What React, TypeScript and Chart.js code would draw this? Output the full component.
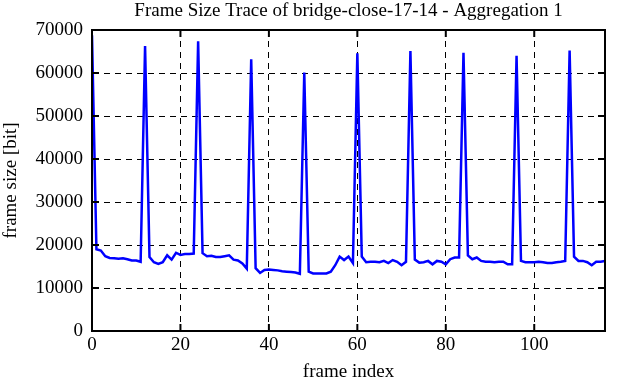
import React, { useEffect, useRef } from "react";
import { Chart, registerables } from "chart.js";

Chart.register(...registerables);

const TITLE = "Frame Size Trace of bridge-close-17-14 - Aggregation 1";
const X_LABEL = "frame index";
const Y_LABEL = "frame size [bit]";

const frameSizes: number[] = [
  68800, 19000, 18700, 17400, 17000, 16900, 16800, 16900, 16700, 16400,
  16400, 16100, 66300, 17200, 16000, 15600, 16000, 17600, 16600, 18200,
  17700, 17900, 17900, 18000, 67400, 18100, 17400, 17500, 17200, 17200,
  17400, 17600, 16600, 16400, 15700, 14500, 63200, 14600, 13500, 14200,
  14300, 14200, 14100, 13900, 13800, 13700, 13600, 13300, 60100, 13800,
  13400, 13400, 13400, 13400, 13800, 15300, 17300, 16500, 17300, 15800,
  64600, 17300, 16000, 16100, 16100, 16000, 16300, 15800, 16500, 16100,
  15300, 16100, 65100, 16600, 15900, 16000, 16300, 15500, 16300, 16100,
  15500, 16700, 17100, 17100, 64700, 17600, 16700, 17100, 16300, 16100,
  16100, 16000, 16100, 16100, 15500, 15500, 64000, 16300, 16000, 16000,
  16000, 16100, 16000, 15800, 15800, 16000, 16100, 16300, 65200, 17300,
  16300, 16300, 16000, 15300, 16100, 16100, 16300,
];
const frameIndex: number[] = frameSizes.map((_, i) => i);

const X_MAX = 116;
const Y_MAX = 70000;
const X_STEP = 20;
const Y_STEP = 10000;

const FONT = "'Liberation Serif', 'Times New Roman', serif";

const frameBox = {
  id: "frameBox",
  afterDatasetsDraw(chart: any) {
    const { ctx, chartArea, scales } = chart;
    const { left, right, top, bottom } = chartArea;
    ctx.save();
    ctx.strokeStyle = "#000";
    ctx.lineWidth = 2;
    ctx.setLineDash([]);
    const tl = 7;
    ctx.beginPath();
    scales.x.ticks.forEach((t: any) => {
      const px = scales.x.getPixelForValue(t.value);
      ctx.moveTo(px, bottom);
      ctx.lineTo(px, bottom - tl);
      ctx.moveTo(px, top);
      ctx.lineTo(px, top + tl);
    });
    scales.y.ticks.forEach((t: any) => {
      const py = scales.y.getPixelForValue(t.value);
      ctx.moveTo(left, py);
      ctx.lineTo(left + tl, py);
      ctx.moveTo(right, py);
      ctx.lineTo(right - tl, py);
    });
    ctx.stroke();
    ctx.lineWidth = 2;
    ctx.strokeRect(left, top, right - left, bottom - top);
    ctx.restore();
  },
};

export default function App() {
  const ref = useRef<HTMLCanvasElement | null>(null);
  useEffect(() => {
    document.body.style.margin = "0";
    const canvas = ref.current;
    if (!canvas) return;
    const chart = new Chart(canvas, {
      type: "line",
      data: {
        labels: frameIndex,
        datasets: [
          {
            data: frameSizes.map((v, i) => ({ x: frameIndex[i], y: v })),
            borderColor: "#0000ff",
            borderWidth: 2.5,
            pointRadius: 0,
            tension: 0,
            fill: false,
          },
        ],
      },
      options: {
        responsive: false,
        animation: false,
        layout: { padding: { left: 0, right: 22, top: 0, bottom: 0 } },
        plugins: {
          legend: { display: false },
          tooltip: { enabled: false },
          title: {
            display: true,
            text: TITLE,
            color: "#000",
            fullSize: false,
            font: { family: FONT, size: 19, weight: "normal", lineHeight: 1.2 },
            padding: { top: 0, bottom: 7.2 },
          },
        },
        scales: {
          x: {
            type: "linear",
            min: 0,
            max: X_MAX,
            afterFit(scale: any) {
              scale.height = 51;
            },
            ticks: {
              stepSize: X_STEP,
              includeBounds: false,
              color: "#000",
              padding: 2.5,
              maxRotation: 0,
              font: { family: FONT, size: 19 },
              callback: (v: any) => String(v),
            },
            grid: {
              color: "#000",
              lineWidth: 1,
              drawTicks: false,
            },
            border: { display: true, color: "#000", width: 2, dash: [6, 5] },
            title: {
              display: true,
              text: X_LABEL,
              color: "#000",
              font: { family: FONT, size: 19, lineHeight: 1 },
              padding: { top: 0, bottom: 0 },
            },
          },
          y: {
            type: "linear",
            min: 0,
            max: Y_MAX,
            afterFit(scale: any) {
              scale.width = 92;
            },
            ticks: {
              stepSize: Y_STEP,
              color: "#000",
              padding: 9,
              font: { family: FONT, size: 19 },
              callback: (v: any) => String(v),
            },
            grid: {
              color: "#000",
              lineWidth: 1,
              drawTicks: false,
            },
            border: { display: true, color: "#000", width: 2, dash: [6, 5] },
            title: {
              display: true,
              text: Y_LABEL,
              color: "#000",
              font: { family: FONT, size: 19, lineHeight: 1 },
              padding: { top: 2, bottom: 0 },
            },
          },
        },
      },
      plugins: [frameBox],
    });
    return () => chart.destroy();
  }, []);
  return (
    <div style={{ position: "absolute", left: 0, top: 0, width: 627, height: 382 }}>
      <canvas ref={ref} width={627} height={382} style={{ width: 627, height: 382 }} />
    </div>
  );
}
